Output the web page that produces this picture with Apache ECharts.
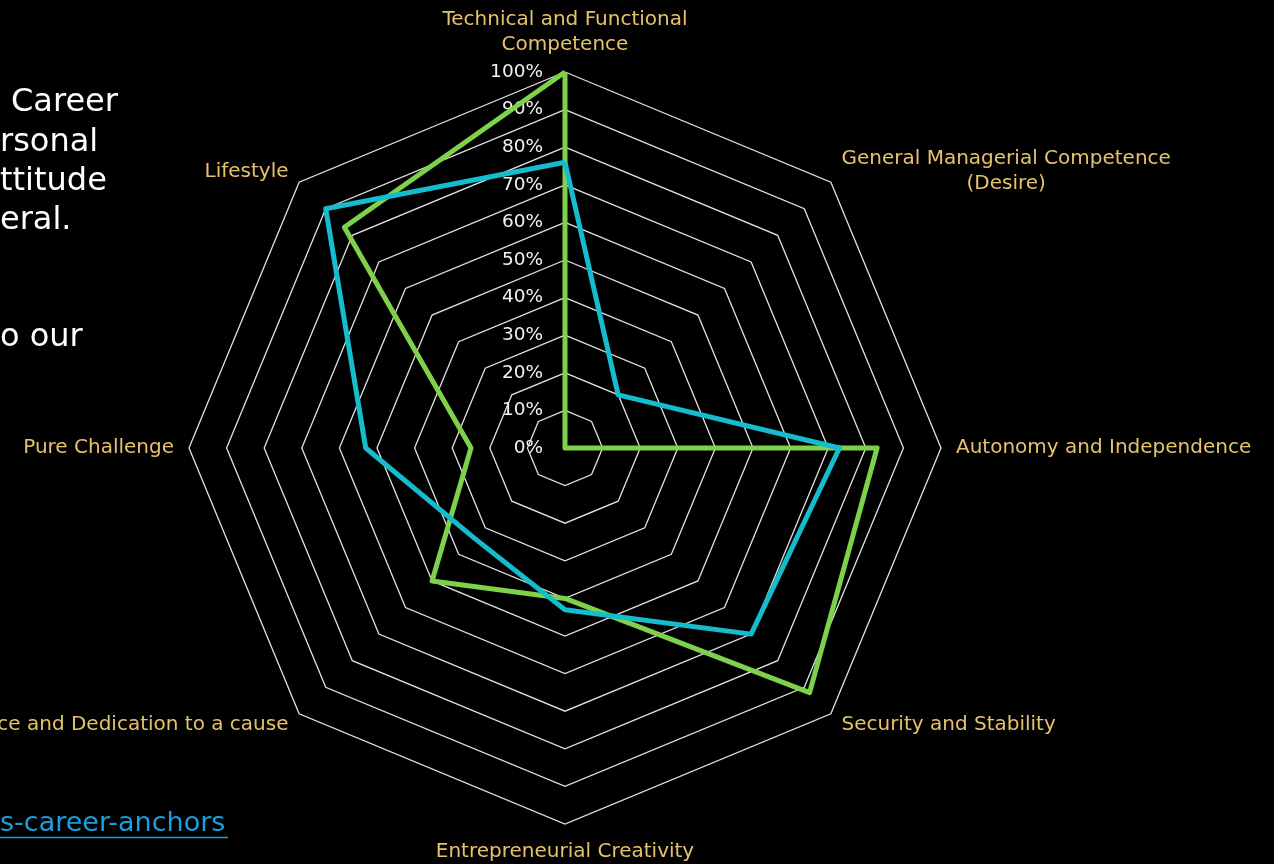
<!DOCTYPE html>
<html>
<head>
<meta charset="utf-8">
<script src="https://cdn.jsdelivr.net/npm/echarts@6/dist/echarts.min.js"></script>
<style>
html,body{margin:0;padding:0;background:#000;}
#chart{width:1274px;height:864px;}
</style>
</head>
<body>
<div id="chart"></div>
<script>
// Categories in the chart's clockwise reading order (starting at the top)
const categories = [
  'Technical and Functional\nCompetence',
  'General Managerial Competence\n(Desire)',
  'Autonomy and Independence',
  'Security and Stability',
  'Entrepreneurial Creativity',
  'Service and Dedication to a cause',
  'Pure Challenge',
  'Lifestyle'
];
const greenValues = [100, 0, 83, 92, 40, 50, 25, 83];
const cyanValues  = [76, 20, 73, 70, 43, 34, 53, 90];
const axisMax = 100;
const splitCount = 10;

// ECharts places radar indicators counter-clockwise; reorder so the picture reads clockwise
const order = [0, 7, 6, 5, 4, 3, 2, 1];
const reorder = arr => order.map(i => arr[i]);

const FONT = 'DejaVu Sans';
const indicators = reorder(categories).map((name, i) => {
  const ind = { name: name, min: 0, max: axisMax };
  if (i === 0) {
    ind.axisLabel = {
      show: true,
      color: '#f2f2f2',
      fontFamily: FONT,
      fontSize: 18.5,
      margin: 22,
      formatter: '{value}%'
    };
  }
  return ind;
});

const chart = echarts.init(document.getElementById('chart'));
chart.setOption({
  backgroundColor: '#000000',
  animation: false,
  radar: {
    center: [565, 448],
    radius: 376,
    shape: 'polygon',
    splitNumber: splitCount,
    indicator: indicators,
    axisName: {
      color: '#E6C26A',
      fontFamily: FONT,
      fontSize: 20,
      lineHeight: 25,
      formatter: function (name) {
        return name.split('\n').map(l => '{c|' + l + '}').join('\n');
      },
      rich: {
        c: { align: 'center', color: '#E6C26A', fontFamily: FONT, fontSize: 20, lineHeight: 25 }
      }
    },
    nameGap: 15,
    axisLine: { show: false },
    axisTick: { show: false },
    axisLabel: { show: false },
    splitArea: { show: false },
    splitLine: { lineStyle: { color: '#e2e2e2', width: 1.3 } }
  },
  series: [
    {
      name: 'Series 1',
      type: 'radar',
      symbol: 'none',
      lineStyle: { color: '#7ED14A', width: 5 },
      itemStyle: { color: '#7ED14A' },
      data: [{ value: reorder(greenValues), name: 'Series 1', lineStyle: { color: '#7ED14A', width: 5 } }],
      z: 2
    },
    {
      name: 'Series 2',
      type: 'radar',
      symbol: 'none',
      lineStyle: { color: '#14BCCC', width: 5 },
      itemStyle: { color: '#14BCCC' },
      data: [{ value: reorder(cyanValues), name: 'Series 2', lineStyle: { color: '#14BCCC', width: 5 } }],
      z: 3
    }
  ],
  graphic: [
    { type: 'text', left: 11, top: 87, style: { text: 'Career', fill: '#ffffff', font: '32px "DejaVu Sans"' } },
    { type: 'text', left: 0, top: 127, style: { text: 'rsonal', fill: '#ffffff', font: '32px "DejaVu Sans"' } },
    { type: 'text', left: 0, top: 166, style: { text: 'ttitude', fill: '#ffffff', font: '32px "DejaVu Sans"' } },
    { type: 'text', left: 0, top: 205, style: { text: 'eral.', fill: '#ffffff', font: '32px "DejaVu Sans"' } },
    { type: 'text', left: 0, top: 322, style: { text: 'o our', fill: '#ffffff', font: '32px "DejaVu Sans"' } },
    { type: 'text', left: 0, top: 810, style: { text: 's-career-anchors', fill: '#1A9FDD', font: '27px "DejaVu Sans"' } },
    { type: 'line', shape: { x1: 0, y1: 837.5, x2: 228, y2: 837.5 }, style: { stroke: '#1A9FDD', lineWidth: 1.5 } }
  ]
});
</script>
</body>
</html>
